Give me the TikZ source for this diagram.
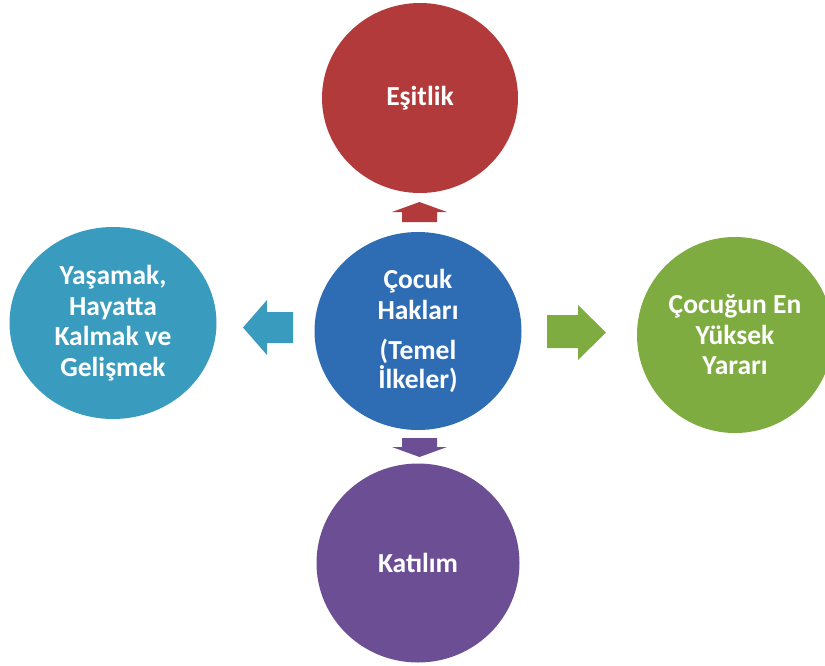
\documentclass[tikz,border=0pt]{standalone}
\usepackage{fontspec}
\setmainfont{Carlito}
\usetikzlibrary{shapes.geometric}
\definecolor{cred}{RGB}{179,58,58}
\definecolor{cblue}{RGB}{46,108,180}
\definecolor{cteal}{RGB}{57,156,190}
\definecolor{cgreen}{RGB}{126,172,64}
\definecolor{cpurple}{RGB}{108,78,149}
\tikzset{
  bubble/.style={ellipse, inner sep=0pt, text=white, align=center,
    font=\bfseries\fontsize{27.5}{30.5}\selectfont},
}
\begin{document}
\begin{tikzpicture}[x=1pt,y=-1pt]
\useasboundingbox (0,0) rectangle (825,665);
\clip (0,0) rectangle (825,665);
\node[bubble, fill=cred, minimum width=196pt, minimum height=190pt] (top) at (420,98) {Eşitlik};
\node[bubble, fill=cblue, minimum width=207pt, minimum height=198pt] (mid) at (418,331) {Çocuk\\Hakları\\[10pt](Temel\\[-2pt]İlkeler)};
\node[bubble, fill=cteal, minimum width=207pt, minimum height=192pt] (left) at (113,323) {Yaşamak,\\Hayatta\\Kalmak ve\\Gelişmek};
\node[bubble, fill=cgreen, minimum width=196pt, minimum height=196pt] (right) at (735,335) {Çocuğun En\\Yüksek\\Yararı};
\node[bubble, fill=cpurple, minimum width=203pt, minimum height=199pt] (bot) at (418,563) {Katılım};
% up arrow
\fill[cred] (402,222) -- (402,212) -- (392,212) -- (419.5,202) -- (447,212) -- (437,212) -- (437,222) -- cycle;
% down arrow
\fill[cpurple] (402,438) -- (437,438) -- (437,447) -- (447,447) -- (419.5,457) -- (392,447) -- (402,447) -- cycle;
% left arrow
\fill[cteal] (293,312) -- (267,312) -- (267,300) -- (243,327.5) -- (267,355) -- (267,343) -- (293,343) -- cycle;
% right arrow
\fill[cgreen] (547,315) -- (578,315) -- (578,305) -- (606,332.5) -- (578,360) -- (578,348) -- (547,348) -- cycle;
\end{tikzpicture}
\end{document}
